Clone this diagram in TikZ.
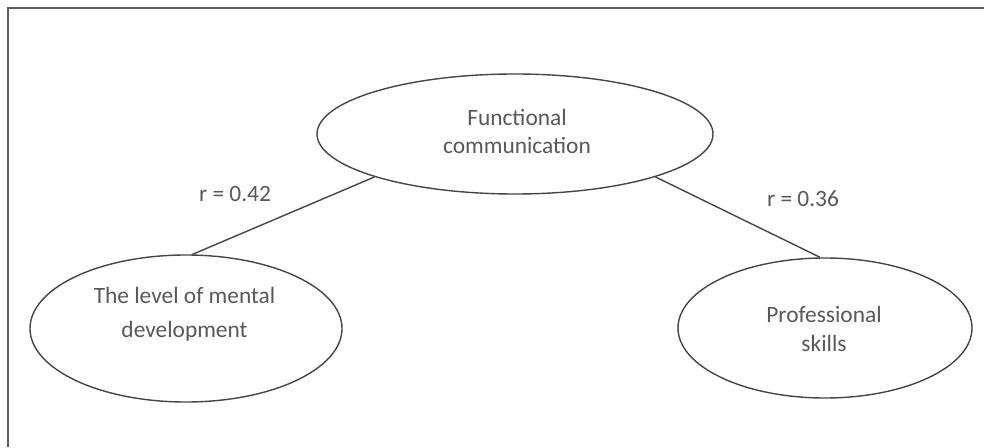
\documentclass[tikz,border=0pt]{standalone}
\usepackage{fontspec}
\setmainfont{Carlito}
\usetikzlibrary{shapes.geometric}
\definecolor{inkgray}{RGB}{72,68,72}
\definecolor{framegray}{RGB}{92,92,100}
\definecolor{textgray}{RGB}{88,88,88}
\tikzset{
  oval/.style={ellipse,draw=inkgray,line width=1.4pt,inner sep=0pt},
  ovaltext/.style={align=center,text=textgray,inner sep=0pt},
  coef/.style={text=textgray,inner sep=0pt,anchor=base,font=\fontsize{23.4}{28}\selectfont},
  link/.style={draw=inkgray,line width=1.4pt}
}

\begin{document}
\begin{tikzpicture}[x=1pt,y=1pt]
        \useasboundingbox (0,0) rectangle (984,447);
        % frame, only its top and left sides are in view
        \draw[framegray,line width=1.5pt] (8,0) -- (8,439) -- (984,439);

        \node[oval,minimum width=396pt,minimum height=120pt] (func) at (515,313) {};
        \node[oval,minimum width=312pt,minimum height=147pt] (mental) at (186,118.5) {};
        \node[oval,minimum width=294pt,minimum height=140pt] (prof) at (825,119) {};

        \node[ovaltext,font=\fontsize{23.4}{28}\selectfont] (functxt) at (517,316) {Functional\\communication};
        \node[ovaltext,font=\fontsize{23.4}{34}\selectfont] (mentaltxt) at (184.5,132.5) {The level of mental\\development};
        \node[ovaltext,font=\fontsize{23.4}{29}\selectfont] (proftxt) at (824,118.5) {Professional\\skills};

        \draw[link] (func.197) -- (mental.85);
        \draw[link] (func.343) -- (prof.94);

        \node[coef] (rleft) at (235,245) {r = 0.42};
        \node[coef] (rright) at (803,240) {r = 0.36};
\end{tikzpicture}
\end{document}
